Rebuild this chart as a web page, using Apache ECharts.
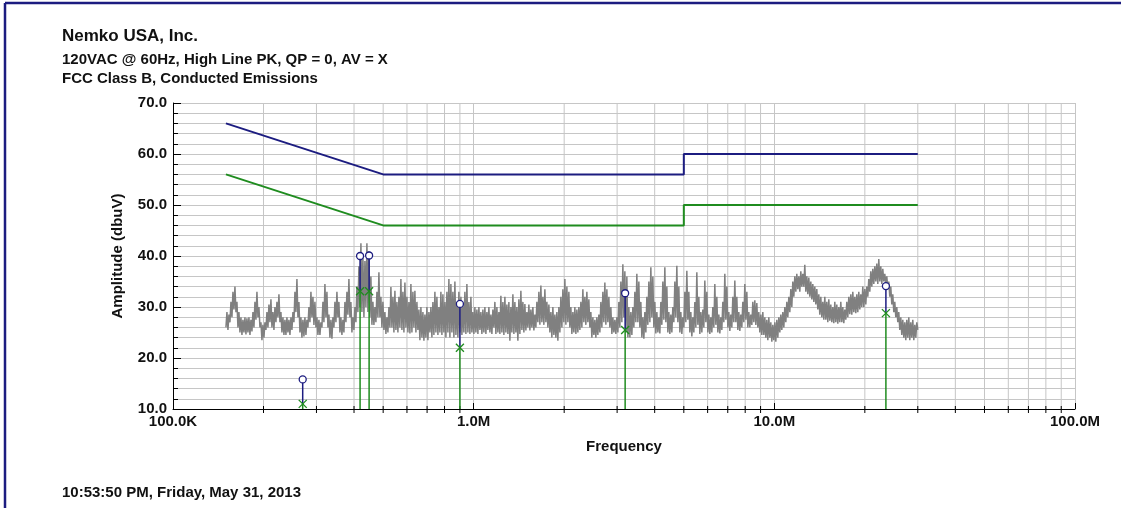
<!DOCTYPE html>
<html>
<head>
<meta charset="utf-8">
<title>Conducted Emissions</title>
<script src="https://cdn.jsdelivr.net/npm/echarts@6/dist/echarts.min.js"></script>
<style>
  html, body { margin: 0; padding: 0; background: #fff; }
  #chart { width: 1124px; height: 508px; }
</style>
</head>
<body>
<div id="chart"></div>
<script>
// peak trace, sweep 0.15 MHz .. 30 MHz (log stepped), dBuV
const sweepStartMHz = 0.15
const sweepStopMHz = 30
const peakTrace = [
  26, 29, 25.5, 28.5, 27, 31, 28, 33, 29.5, 34,
  29, 31, 26, 29, 25, 28, 24.5, 27.5, 25, 28,
  24.6, 27.8, 25, 28, 24.5, 27.5, 25.2, 29, 26, 31,
  27.5, 33, 28, 30, 26, 27, 23.5, 26.5, 24, 27,
  25.5, 29, 26, 30.5, 27, 31.5, 26, 29, 25.5, 30,
  27, 31, 28, 32.5, 27, 29, 25, 28, 24.5, 27.5,
  24.5, 28, 25, 27.5, 24.5, 28, 25.5, 29, 27, 33,
  29, 35.5, 28, 31, 25, 28, 24, 27.5, 24.2, 28,
  24.5, 27.5, 26, 30, 27, 33, 28, 32, 26.5, 31,
  26, 28, 24.5, 27.5, 24.5, 27, 26, 31, 27, 34.5,
  28, 33, 26, 28.5, 24, 27.5, 23.8, 28, 26, 31,
  27, 33, 28, 31, 25, 28, 24.5, 27.5, 25, 31,
  27, 33, 28.5, 35.5, 28, 31, 25, 28, 25.5, 30,
  27, 34, 29, 38, 30, 42.5, 29, 40, 28, 39,
  30, 42.5, 29, 41, 28, 36, 26.5, 31, 26.5, 30,
  27, 33, 28, 36.8, 28, 32, 26, 31, 25.5, 29,
  24.7, 28, 25, 30, 26, 33.9, 26, 32, 25, 33.2,
  25.5, 31, 25, 32, 26, 35.5, 25.5, 33, 25, 34.8,
  26, 32, 25, 31, 24.8, 34.5, 25, 33, 26, 33.2,
  25, 31, 25.5, 29.5, 23.5, 30, 24, 29, 23.4, 28.5,
  24, 30, 23.5, 29, 25, 30, 24, 31, 24.5, 33,
  25, 32, 24.5, 30, 25, 33, 24.5, 32.5, 25, 31,
  24, 33, 25, 35.5, 24, 34.5, 25, 33, 24, 35,
  24.5, 31, 24, 33, 25, 32, 24.5, 30.5, 25, 33,
  24.7, 34.5, 25, 31, 24.7, 32, 25, 29, 24.7, 30,
  25, 29.5, 24.7, 30, 25.5, 29, 24.7, 29.5, 25, 30,
  24.7, 29, 25.5, 30, 25, 28.5, 24.7, 29.5, 26, 31,
  24.7, 30, 25, 29, 24.7, 32.2, 25, 31, 24.5, 32,
  25, 30.5, 24.7, 31, 23.4, 30, 25, 32.5, 24.7, 31,
  25, 30, 23.4, 31.5, 24.7, 33.2, 25.5, 31, 25, 30.6,
  25.4, 29, 26, 30.5, 25.4, 29.5, 26, 30, 25.4, 28.5,
  26, 31, 27, 33, 26.5, 34.2, 27, 32, 26.5, 33.5,
  27, 31, 26, 30.5, 25, 29, 24, 30, 24.5, 28.5,
  24, 29, 23.4, 30, 25, 32, 26, 33.5, 27, 35.5,
  26.5, 34, 27, 33, 26, 30, 24.7, 29, 25, 30,
  24.7, 29.5, 25, 30, 25.5, 31, 26, 33.5, 27, 32,
  26.5, 33, 27, 31.5, 26, 29, 24, 28, 24.5, 27.5,
  24, 28, 24.5, 28.5, 25, 31, 26, 33, 27, 34.8,
  26.5, 33.5, 27, 32, 26, 30, 24.7, 28, 25, 27.5,
  24.7, 28, 25, 31, 26, 35, 27, 38.4, 28, 37,
  25, 36, 24, 30, 24, 29, 24.5, 30, 26, 33,
  27, 36.5, 27, 35, 26, 31, 24, 28, 23.8, 29,
  25, 32, 26.5, 35, 27, 37.8, 28, 36, 26, 31,
  24.8, 29, 25, 28, 24.8, 31, 26.5, 35, 27.5, 37.8,
  27, 34, 25, 29, 24.7, 28.5, 25, 30, 27, 35,
  28, 38.1, 27, 34, 25, 29, 24.7, 28, 26, 33,
  27, 37.1, 27.5, 33, 25, 29, 24.2, 28, 25, 31,
  26, 36.8, 26.5, 32, 24.7, 29, 25, 29.5, 26, 35.2,
  27, 33, 25, 28.5, 24.7, 28, 25, 30, 26, 34.5,
  26.5, 32, 25, 28.5, 24.8, 28, 25.5, 31, 27, 36.5,
  27.5, 34, 26, 29, 25.3, 28.5, 26, 32, 27, 35.2,
  27, 32, 25.5, 29, 25.3, 28.5, 26, 31, 27, 34.5,
  27.5, 33, 26, 29, 26, 28.5, 26.5, 31, 27, 31.3,
  26.5, 30.8, 26, 29, 25, 28.5, 24.5, 29, 24.5, 28,
  24, 27.5, 23.5, 28, 24, 27, 23.2, 26.5, 23.5, 27,
  23.2, 27.5, 24, 28, 25, 28.5, 25.5, 29, 26, 30,
  27, 31, 28, 32, 29, 33.5, 30, 35, 32, 36,
  33, 36.5, 33.5, 36, 33, 37, 34, 36.5, 34, 38.3,
  33, 36, 32.5, 35.8, 32, 35, 31.5, 34.5, 31, 34,
  30.5, 33.5, 29.5, 32.5, 28.5, 32, 28, 31, 27.5, 32,
  27.5, 31, 27, 31.5, 27.3, 30.5, 27, 30, 26.8, 31,
  27, 30.5, 26.7, 30, 27, 31, 27, 30, 26.8, 29.5,
  27.5, 31, 28, 32, 28.6, 32.5, 28.5, 33, 29, 32,
  28.8, 32.5, 29, 33, 29.5, 32.5, 30, 34, 30, 33.5,
  30.5, 34, 32, 35.5, 33, 37, 34, 37.5, 34.5, 38,
  35, 38.5, 34.5, 39.4, 35, 38, 34.5, 37.5, 35, 36.5,
  34.5, 36, 33.5, 35, 32, 34, 30.5, 32.5, 29, 31,
  28, 30, 27, 29, 25.5, 28, 24.5, 27.5, 24, 27,
  23.5, 27.5, 24, 28, 23.5, 27, 24, 27.5, 23.5, 26.5,
  24, 27, 25.5
]

// FCC Class B limit lines (MHz / dBuV)
const limitFreq = [0.15, 0.5, 5, 5, 30]
const qpLimit = [66, 56, 56, 60, 60]
const avLimit = [56, 46, 46, 50, 50]

// final measurements: PK (circle) and AV (x)
const markerFreq = [0.27, 0.419, 0.449, 0.90, 3.19, 23.5]
const markerPk = [15.8, 40.0, 40.1, 30.6, 32.7, 34.1]
const markerAv = [11.0, 33.1, 33.1, 22.0, 25.5, 28.8]

const xTickValues = [0.1, 1, 10, 100]
const xTickLabels = ['100.0K', '1.0M', '10.0M', '100.0M']
// log minor grid: 2..9 in each decade
const xMinorGrid = [0.2, 0.3, 0.4, 0.5, 0.6, 0.7, 0.8, 0.9, 2, 3, 4, 5, 6, 7, 8, 9, 20, 30, 40, 50, 60, 70, 80, 90]

const navy = '#1c1c80'
const green = '#1f8c1f'
const gridGrey = '#c6c6c6'
const txt = '#111'
const font = 'Liberation Sans, Arial, sans-serif'

const traceData = peakTrace.map((v, i) => [
  sweepStartMHz * Math.pow(sweepStopMHz / sweepStartMHz, i / (peakTrace.length - 1)),
  v
])

const chart = echarts.init(document.getElementById('chart'))

const option = {
  animation: false,
  backgroundColor: '#fff',
  textStyle: { fontFamily: font },
  grid: {
    left: 173, right: 49, top: 103, bottom: 99,
    containLabel: false, outerBoundsMode: 'none'
  },
  graphic: [
    { type: 'line', shape: { x1: 5, y1: 3, x2: 1121, y2: 3 }, style: { stroke: navy, lineWidth: 2.5 } },
    { type: 'line', shape: { x1: 5, y1: 3, x2: 5, y2: 508 }, style: { stroke: navy, lineWidth: 2.5 } },
    { type: 'text', left: 62, top: 28, style: { text: 'Nemko USA, Inc.', font: 'bold 17px ' + font, fill: txt } },
    { type: 'text', left: 62, top: 52, style: { text: '120VAC @ 60Hz, High Line PK, QP = 0, AV = X', font: 'bold 15px ' + font, fill: txt } },
    { type: 'text', left: 62, top: 71, style: { text: 'FCC Class B, Conducted Emissions', font: 'bold 15px ' + font, fill: txt } },
    { type: 'text', left: 62, top: 485, style: { text: '10:53:50 PM, Friday, May 31, 2013', font: 'bold 15px ' + font, fill: txt } }
  ],
  xAxis: {
    type: 'log',
    logBase: 10,
    min: 0.1,
    max: 100,
    name: 'Frequency',
    nameLocation: 'middle',
    nameGap: 30,
    nameTextStyle: { fontWeight: 'bold', fontSize: 15, color: txt },
    axisLine: { lineStyle: { color: '#000', width: 1 } },
    axisTick: { inside: true, length: 6, lineStyle: { color: '#000' } },
    minorTick: { show: false },
    axisLabel: {
      color: txt, fontWeight: 'bold', fontSize: 15, margin: 5,
      showMinLabel: true, showMaxLabel: true,
      formatter: v => {
        const k = xTickValues.findIndex(t => Math.abs(t - v) < 1e-6 * t)
        return k >= 0 ? xTickLabels[k] : ''
      }
    },
    splitLine: { show: true, lineStyle: { color: gridGrey, width: 1 } },
    minorSplitLine: { show: false }
  },
  yAxis: {
    type: 'value',
    min: 10,
    max: 70,
    interval: 10,
    name: 'Amplitude (dbuV)',
    nameLocation: 'middle',
    nameGap: 48,
    nameTextStyle: { fontWeight: 'bold', fontSize: 15, color: txt },
    axisLine: { show: true, lineStyle: { color: '#000', width: 1 } },
    axisTick: { show: true, inside: true, length: 8, lineStyle: { color: '#000' } },
    minorTick: { show: true, splitNumber: 5, length: 5, lineStyle: { color: '#000' } },
    axisLabel: { color: txt, fontWeight: 'bold', fontSize: 15, margin: 6, formatter: v => v.toFixed(1) },
    splitLine: { show: true, lineStyle: { color: gridGrey, width: 1 } },
    minorSplitLine: { show: true, lineStyle: { color: gridGrey, width: 1 } }
  },
  series: [
    {
      name: 'Minor grid',
      type: 'custom',
      z: 1,
      silent: true,
      data: xMinorGrid.map(f => [f]),
      encode: { x: 0 },
      renderItem: (params, api) => {
        const top = api.coord([api.value(0), 70])
        const bot = api.coord([api.value(0), 10])
        return {
          type: 'group',
          children: [
            { type: 'line', shape: { x1: bot[0], y1: top[1], x2: bot[0], y2: bot[1] }, style: { stroke: gridGrey, lineWidth: 1 } },
            { type: 'line', shape: { x1: bot[0], y1: bot[1] - 3, x2: bot[0], y2: bot[1] + 4 }, style: { stroke: '#000', lineWidth: 1 } }
          ]
        }
      }
    },
    {
      name: 'QP limit',
      type: 'line',
      data: limitFreq.map((f, i) => [f, qpLimit[i]]),
      showSymbol: false,
      lineStyle: { color: navy, width: 2 },
      z: 3
    },
    {
      name: 'AV limit',
      type: 'line',
      data: limitFreq.map((f, i) => [f, avLimit[i]]),
      showSymbol: false,
      lineStyle: { color: green, width: 2 },
      z: 3
    },
    {
      name: 'Peak',
      type: 'line',
      data: traceData,
      showSymbol: false,
      sampling: 'none',
      lineStyle: { color: '#808080', width: 1.5 },
      z: 4
    },
    {
      name: 'Markers',
      type: 'custom',
      z: 6,
      data: markerFreq.map((f, i) => [f, markerPk[i], markerAv[i]]),
      encode: { x: 0, y: [1, 2] },
      renderItem: (params, api) => {
        const pk = api.coord([api.value(0), api.value(1)])
        const av = api.coord([api.value(0), api.value(2)])
        const base = api.coord([api.value(0), 10])
        const s = 4
        return {
          type: 'group',
          children: [
            { type: 'line', shape: { x1: av[0], y1: av[1], x2: base[0], y2: base[1] }, style: { stroke: green, lineWidth: 1.5 } },
            { type: 'line', shape: { x1: pk[0], y1: pk[1], x2: av[0], y2: av[1] }, style: { stroke: navy, lineWidth: 1.5 } },
            { type: 'line', shape: { x1: av[0] - s, y1: av[1] - s, x2: av[0] + s, y2: av[1] + s }, style: { stroke: green, lineWidth: 1.3 } },
            { type: 'line', shape: { x1: av[0] - s, y1: av[1] + s, x2: av[0] + s, y2: av[1] - s }, style: { stroke: green, lineWidth: 1.3 } },
            { type: 'circle', shape: { cx: pk[0], cy: pk[1], r: 3.5 }, style: { fill: '#fff', stroke: navy, lineWidth: 1.3 } }
          ]
        }
      }
    }
  ]
}

chart.setOption(option)
</script>
</body>
</html>
